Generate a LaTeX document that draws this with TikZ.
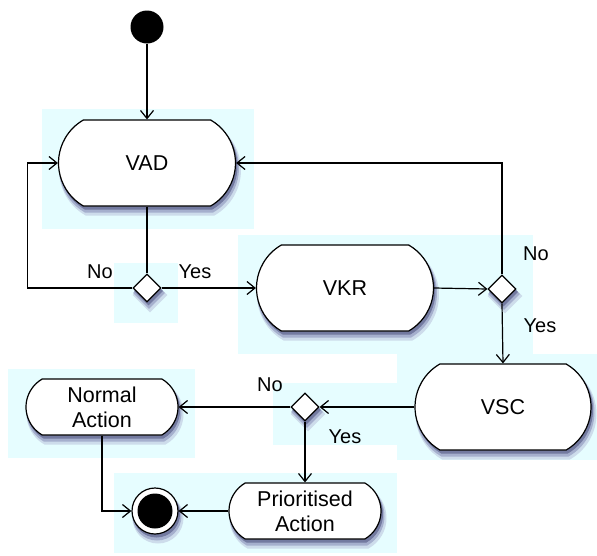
\documentclass[tikz,border=0pt]{standalone}
\usepackage{fontspec}
\setmainfont{Liberation Sans}
\usetikzlibrary{arrows.meta,shapes.misc,shapes.geometric}
\definecolor{bgcyan}{RGB}{230,253,255}
\definecolor{sha}{RGB}{205,220,235}
\definecolor{shb}{RGB}{165,175,205}
\definecolor{shd}{RGB}{115,122,160}
\tikzset{
  actshape/.style={rounded rectangle, rounded rectangle arc length=120, inner sep=0pt},
  act/.style={actshape, draw=black, line width=1.2pt, fill=white,
    align=center, font=\fontsize{21.5}{25}\selectfont},
  decshape/.style={diamond, minimum size=28pt, inner sep=0pt},
  dec/.style={decshape, draw=black, line width=1.2pt, fill=white},
  arr/.style={line width=1.2pt, -{Straight Barb[length=8pt,width=13pt,line width=1.2pt]}},
  lbl/.style={font=\fontsize{20}{22}\selectfont, inner sep=0pt},
  bg/.style={fill=bgcyan, draw=none},
  shadowed/.style={preaction={fill=sha, draw=sha, line width=5pt, transform canvas={xshift=3pt,yshift=-7pt}},
                   preaction={fill=shb, draw=shb, line width=3pt, transform canvas={xshift=2pt,yshift=-5pt}},
                   preaction={fill=shd, draw=shd, line width=1pt, transform canvas={xshift=1.5pt,yshift=-3pt}}}
}
\begin{document}
\begin{tikzpicture}[x=1pt,y=-1pt]
\useasboundingbox (0,0) rectangle (597,555);
% background tint regions
\fill[bg] (42,109) rectangle (254,229);
\fill[bg] (114,263) rectangle (178,323);
\fill[bg] (238,235) rectangle (533,354);
\fill[bg] (397,354) rectangle (597,460);
\fill[bg] (273,383) rectangle (397,445);
\fill[bg] (8,369) rectangle (195,458);
\fill[bg] (114,473) rectangle (397,553);
% nodes
\node[circle, fill=black, minimum size=33pt, inner sep=0pt] (start) at (147,27) {};
\node[act, shadowed, minimum width=177pt, minimum height=86pt] (vad) at (147,163) {VAD};
\node[dec, shadowed] (d1) at (147,288) {};
\node[act, shadowed, minimum width=177pt, minimum height=86pt] (vkr) at (345,288) {VKR};
\node[dec, shadowed] (d2) at (502,289) {};
\node[act, shadowed, minimum width=176pt, minimum height=86pt] (vsc) at (503,407) {VSC};
\node[dec, shadowed] (d3) at (305,407) {};
\node[act, shadowed, minimum width=152pt, minimum height=56pt] (normal) at (102,407) {Normal\\Action};
\node[act, shadowed, minimum width=152pt, minimum height=56pt] (prio) at (305,511) {Prioritised\\Action};
\node[circle, shadowed, draw=black, line width=1.2pt, fill=white, minimum size=46pt, inner sep=0pt] (end) at (155,511) {};
\node[circle, fill=black, minimum size=35pt, inner sep=0pt] (endin) at (end.center) {};
% connectors
\draw[arr] (start) -- (vad.north);
\draw[line width=1.2pt] (vad.south) -- (d1.north);
\draw[arr] (d1.west) -- ++(-105,0) |- (vad.west);
\draw[arr] (d1.east) -- (vkr.west);
\draw[arr] (vkr.east) -- (d2.west);
\draw[arr] (d2.north) |- (vad.east);
\draw[arr] (d2.south) -- (vsc.north);
\draw[arr] (vsc.west) -- (d3.east);
\draw[arr] (d3.west) -- (normal.east);
\draw[arr] (d3.south) -- (prio.north);
\draw[arr] (normal.south) |- (end.west);
\draw[arr] (prio.west) -- (end.east);
% labels
\node[lbl] (l1) at (100,272) {No};
\node[lbl] (l2) at (195,272) {Yes};
\node[lbl] (l3) at (536,254) {No};
\node[lbl] (l4) at (540,326) {Yes};
\node[lbl] (l5) at (270,385) {No};
\node[lbl] (l6) at (345,437) {Yes};
\end{tikzpicture}
\end{document}
